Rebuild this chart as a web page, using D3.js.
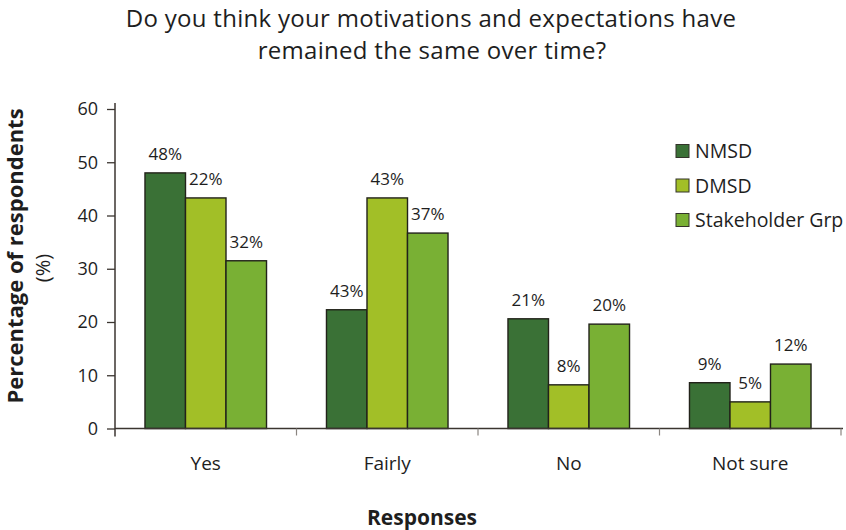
<!DOCTYPE html>
<html>
<head>
<meta charset="utf-8">
<script src="https://cdn.jsdelivr.net/npm/d3@7"></script>
<style>
  html, body { margin: 0; padding: 0; background: #fff; }
  svg { display: block; font-family: "Open Sans", "Noto Sans", sans-serif; }
</style>
</head>
<body>
<svg id="chart" width="846" height="530"></svg>
<script>
// Response categories and respondent groups
const categories = ["Yes", "Fairly", "No", "Not sure"];
const groups = ["NMSD", "DMSD", "Stakeholder Grp"];

// Percentage of respondents per group, one array per category
const yesValues = [48, 43.3, 31.5];
const fairlyValues = [22.3, 43.3, 36.7];
const noValues = [20.6, 8.2, 19.6];
const notSureValues = [8.6, 5, 12.1];

// Value labels printed above each bar, as published
const yesLabels = ["48%", "22%", "32%"];
const fairlyLabels = ["43%", "43%", "37%"];
const noLabels = ["21%", "8%", "20%"];
const notSureLabels = ["9%", "5%", "12%"];

const yTicks = [0, 10, 20, 30, 40, 50, 60];
const colors = ["#3a7136", "#a2bf27", "#79b034"];

const valuesByCategory = [yesValues, fairlyValues, noValues, notSureValues];
const labelsByCategory = [yesLabels, fairlyLabels, noLabels, notSureLabels];

const rows = categories.flatMap((cat, ci) =>
  groups.map((g, gi) => ({
    category: cat, group: g, gi,
    value: valuesByCategory[ci][gi],
    label: labelsByCategory[ci][gi]
  }))
);

const svg = d3.select("#chart");
const plotLeft = 115, plotRight = 841, plotTop = 109, plotBottom = 428.5;
const axisColor = "#3b3530";
const textColor = "#1e1e1e";

const x0 = d3.scaleBand().domain(categories).range([plotLeft, plotRight]).padding(0);
const x1 = d3.scaleBand().domain(groups).range([0, x0.bandwidth()])
  .paddingInner(0).paddingOuter(0.74);
const y = d3.scaleLinear().domain([0, 60]).range([plotBottom, plotTop]);

// Title
const title = svg.append("g").attr("fill", textColor)
  .attr("font-size", 24).attr("letter-spacing", 0.3).attr("text-anchor", "middle");
title.append("text").attr("x", 431).attr("y", 27)
  .text("Do you think your motivations and expectations have");
title.append("text").attr("x", 432).attr("y", 59)
  .text("remained the same over time?");

// Bars
svg.append("g").selectAll("rect").data(rows).join("rect")
  .attr("x", d => x0(d.category) + x1(d.group))
  .attr("y", d => y(d.value))
  .attr("width", x1.bandwidth())
  .attr("height", d => y(0) - y(d.value))
  .attr("fill", d => colors[d.gi])
  .attr("stroke", "#22221a")
  .attr("stroke-width", 1.4);

// Bar value labels
svg.append("g").attr("fill", textColor).attr("font-size", 17)
  .attr("text-anchor", "middle")
  .selectAll("text").data(rows).join("text")
  .attr("x", d => x0(d.category) + x1(d.group) + x1.bandwidth() / 2)
  .attr("y", d => y(d.value) - 13)
  .text(d => d.label);

// Y axis
const yAxis = svg.append("g").attr("transform", `translate(${plotLeft},0)`)
  .call(d3.axisLeft(y).tickValues(yTicks).tickSize(8).tickPadding(9));
yAxis.select(".domain").attr("stroke", axisColor).attr("stroke-width", 1.5)
  .attr("d", `M-0,${plotTop - 6}V${plotBottom + 8}`);
yAxis.selectAll(".tick line").attr("stroke", axisColor).attr("stroke-width", 1.3);
yAxis.selectAll(".tick text").attr("fill", textColor)
  .attr("font-size", 18).attr("font-family", "'Open Sans', sans-serif");

// X axis: baseline with dividers between categories
const boundaries = categories.map(c => x0(c)).concat([x0(categories[categories.length - 1]) + x0.bandwidth()]);
const xAxis = svg.append("g");
xAxis.append("line").attr("x1", plotLeft).attr("x2", plotRight + 2)
  .attr("y1", plotBottom).attr("y2", plotBottom)
  .attr("stroke", axisColor).attr("stroke-width", 1.5);
xAxis.selectAll("line.div").data(boundaries.slice(1)).join("line")
  .attr("class", "div")
  .attr("x1", d => d).attr("x2", d => d)
  .attr("y1", plotBottom).attr("y2", plotBottom + 7)
  .attr("stroke", "#8a8580").attr("stroke-width", 1.2);
xAxis.selectAll("text").data(categories).join("text")
  .attr("x", d => x0(d) + x0.bandwidth() / 2)
  .attr("y", 470)
  .attr("text-anchor", "middle")
  .attr("font-size", 19)
  .attr("fill", textColor)
  .text(d => d);

// Axis titles
svg.append("text").attr("x", 422).attr("y", 525)
  .attr("text-anchor", "middle").attr("font-size", 21).attr("font-weight", 700)
  .attr("fill", textColor).text("Responses");
svg.append("text").attr("transform", "translate(23,256) rotate(-90)")
  .attr("text-anchor", "middle").attr("font-size", 22).attr("font-weight", 700)
  .attr("fill", textColor).text("Percentage of respondents");
svg.append("text").attr("transform", "translate(50,268) rotate(-90)")
  .attr("text-anchor", "middle").attr("font-size", 20).attr("font-weight", 400)
  .attr("fill", textColor).text("(%)");

// Legend
const legend = svg.append("g").selectAll("g").data(groups).join("g")
  .attr("transform", (d, i) => `translate(676,${151 + i * 34.5})`);
legend.append("rect").attr("x", 0).attr("y", -6.5).attr("width", 13).attr("height", 13)
  .attr("fill", (d, i) => colors[i]).attr("stroke", "#33332a").attr("stroke-width", 1);
legend.append("text").attr("x", 19).attr("y", 7)
  .attr("font-size", 19.5).attr("fill", textColor).text(d => d);
</script>
</body>
</html>
